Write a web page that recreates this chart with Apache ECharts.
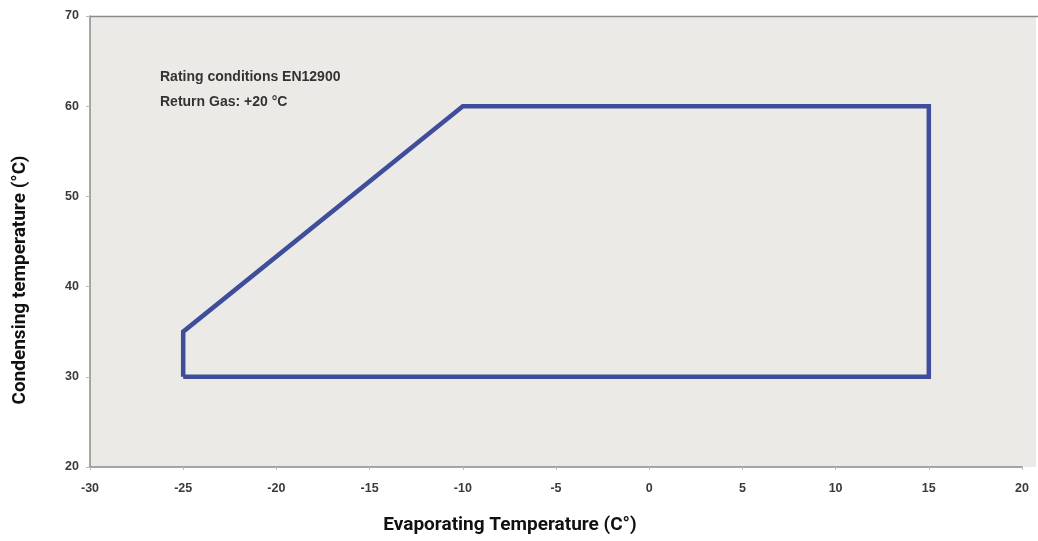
<!DOCTYPE html>
<html><head><meta charset="utf-8">
<script src="https://cdn.jsdelivr.net/npm/echarts@6/dist/echarts.min.js"></script>
<style>html,body{margin:0;padding:0;background:#fff}#c{width:1038px;height:541px}</style>
</head><body><div id="c"></div>
<script>
const evapTemp = [-25, -25, -10, 15, 15, -25];
const condTemp = [30, 35, 60, 60, 30, 30];
const xName = 'Evaporating Temperature (C°)';
const yName = 'Condensing temperature (°C)';
const notes = ['Rating conditions EN12900', 'Return Gas: +20 °C'];

const chart = echarts.init(document.getElementById('c'));
const tickFont = {fontFamily: 'Liberation Sans', fontWeight: 'bold', fontSize: 12.5, color: '#3a3a3a'};
chart.setOption({
  animation: false,
  grid: {left: 90, right: 16, top: 16, bottom: 74, outerBoundsMode: 'none', containLabel: false, show: false},
  xAxis: [{
    type: 'value', min: -30, max: 20, interval: 5,
    axisLine: {onZero: false, lineStyle: {color: '#8a8a8a', width: 1.5}},
    axisTick: {show: true, length: 3, lineStyle: {color: '#bbb'}},
    axisLabel: Object.assign({margin: 15}, tickFont),
    splitLine: {show: false}
  }, {
    type: 'value', min: -30, max: 20, position: 'top',
    axisLine: {show: false}, axisTick: {show: false}, axisLabel: {show: false}, splitLine: {show: false}
  }],
  yAxis: {
    type: 'value', min: 20, max: 70, interval: 10,
    axisLine: {show: true, onZero: false, lineStyle: {color: '#8a8a8a', width: 1.5}},
    axisTick: {show: true, length: 4, lineStyle: {color: '#bbb'}},
    axisLabel: Object.assign({margin: 11}, tickFont),
    splitLine: {show: false}
  },
  graphic: [
    {type: 'rect', z: -10, shape: {x: 90, y: 16, width: 946, height: 451}, style: {fill: '#ebeae7'}},
    {type: 'line', z: -5, shape: {x1: 90, y1: 16.5, x2: 1038, y2: 16.5}, style: {stroke: '#8a8a8a', lineWidth: 1.5}},
    {type: 'text', x: 160, y: 77, style: {text: notes[0], fontFamily: 'Liberation Sans', fontWeight: 'bold', fontSize: 14, fill: '#333', verticalAlign: 'middle'}},
    {type: 'text', x: 160, y: 102, style: {text: notes[1], fontFamily: 'Liberation Sans', fontWeight: 'bold', fontSize: 14, fill: '#333', verticalAlign: 'middle'}},
    {type: 'text', x: 20, y: 280, rotation: Math.PI / 2, style: {text: yName, fontFamily: 'Roboto', fontWeight: 'bold', fontSize: 19, fill: '#111', align: 'center', verticalAlign: 'middle'}},
    {type: 'text', x: 510, y: 525, style: {text: xName, fontFamily: 'Roboto', fontWeight: 'bold', fontSize: 19, fill: '#111', align: 'center', verticalAlign: 'middle'}}
  ],
  series: [{
    type: 'line',
    data: evapTemp.map((x, i) => [x, condTemp[i]]),
    symbol: 'none',
    lineStyle: {color: '#3f4d9b', width: 4.5, join: 'miter'}
  }]
});
</script></body></html>
